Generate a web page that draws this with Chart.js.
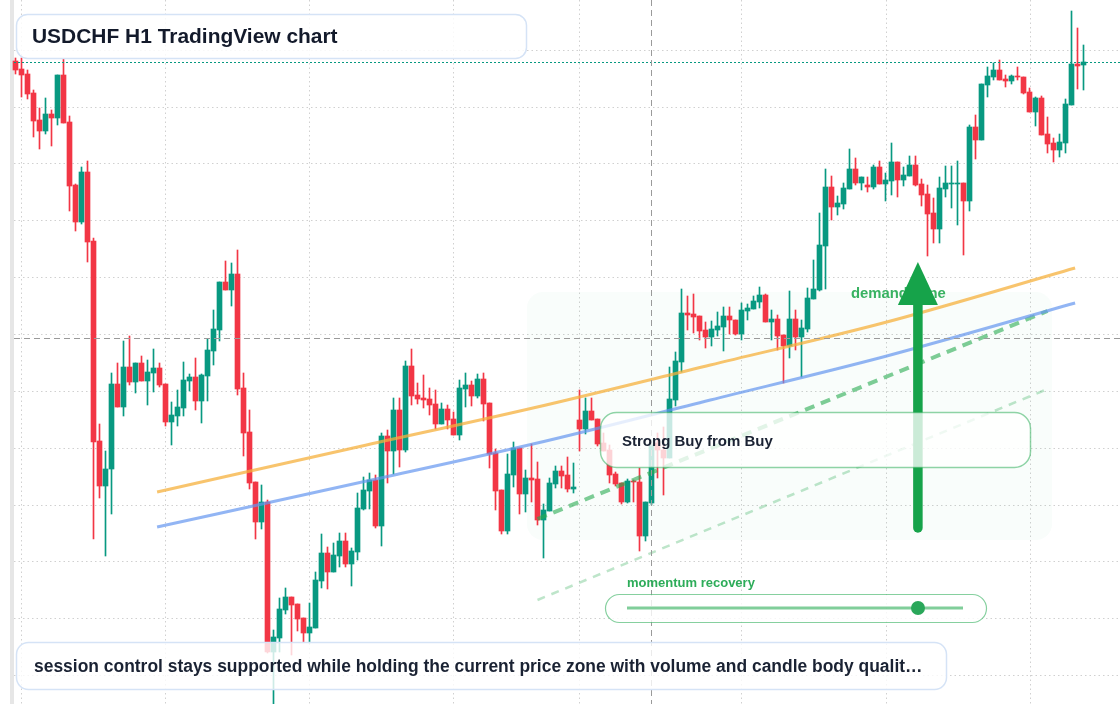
<!DOCTYPE html>
<html><head><meta charset="utf-8">
<script src="https://cdn.jsdelivr.net/npm/chart.js@4.4.1/dist/chart.umd.min.js"></script>
<style>html,body{margin:0;padding:0;background:#fff;overflow:hidden}canvas{display:block}</style>
</head><body>
<canvas id="c" width="1120" height="704"></canvas>
<script>
// ---- data (USDCHF, H1) ----
const opens=[.89878,.89862,.89852,.89814,.89760,.89738,.89772,.89764,.89850,.89756,
.89630,.89556,.89656,.89518,.89118,.89028,.89062,.89232,.89186,.89266,
.89236,.89274,.89238,.89254,.89264,.89232,.89156,.89168,.89184,.89238,
.89246,.89198,.89248,.89298,.89340,.89436,.89420,.89452,.89224,.89136,
.89036,.88956,.88996,.88696,.88724,.88780,.88806,.88792,.88764,.88734,
.88744,.88838,.88894,.88856,.88888,.88918,.88872,.88896,.88982,.89018,
.89040,.88948,.89128,.89098,.89180,.89100,.89268,.89210,.89204,.89202,
.89192,.89152,.89182,.89162,.89130,.89222,.89230,.89208,.89242,.89194,
.89094,.89020,.88938,.89050,.89104,.89012,.89044,.89042,.88960,.88978,
.89032,.89058,.89050,.89022,.89160,.89142,.89178,.89162,.89114,.89100,
.89052,.89034,.88996,.89038,.89036,.88928,.88994,.89114,.89100,.89084,
.89200,.89276,.89374,.89372,.89368,.89340,.89326,.89340,.89346,.89368,
.89360,.89332,.89378,.89382,.89396,.89410,.89356,.89362,.89330,.89308,
.89362,.89326,.89342,.89402,.89420,.89508,.89626,.89586,.89592,.89622,
.89662,.89634,.89630,.89626,.89666,.89632,.89638,.89676,.89640,.89648,
.89670,.89632,.89612,.89574,.89542,.89622,.89632,.89632,.89634,.89598,
.89746,.89720,.89830,.89846,.89860,.89842,.89838,.89848,.89846,.89816,
.89776,.89804,.89732,.89714,.89700,.89714,.89790,.89872,.89870];
const highs=[.89884,.89884,.89860,.89820,.89784,.89804,.89780,.89850,.89882,.89768,
.89632,.89666,.89678,.89524,.89152,.89098,.89254,.89274,.89318,.89328,
.89274,.89288,.89280,.89302,.89274,.89232,.89196,.89220,.89276,.89252,
.89284,.89252,.89322,.89380,.89436,.89478,.89474,.89500,.89254,.89180,
.89036,.89030,.89000,.88740,.88804,.88824,.88806,.88792,.88764,.88794,
.88856,.88932,.88906,.88914,.88934,.88934,.88904,.89014,.89046,.89054,
.89050,.89134,.89140,.89204,.89204,.89278,.89302,.89234,.89250,.89224,
.89220,.89194,.89190,.89176,.89240,.89254,.89238,.89252,.89254,.89194,
.89102,.89020,.89092,.89116,.89104,.89060,.89112,.89076,.88992,.89044,
.89068,.89068,.89086,.89074,.89220,.89204,.89204,.89162,.89134,.89110,
.89056,.89034,.89042,.89040,.89064,.88996,.89120,.89134,.89146,.89266,
.89296,.89422,.89408,.89412,.89368,.89356,.89358,.89376,.89386,.89386,
.89360,.89394,.89392,.89408,.89426,.89412,.89380,.89370,.89330,.89418,
.89380,.89360,.89424,.89480,.89574,.89662,.89648,.89608,.89634,.89702,
.89684,.89646,.89646,.89670,.89678,.89654,.89714,.89676,.89666,.89688,
.89688,.89642,.89630,.89604,.89646,.89668,.89668,.89678,.89634,.89750,
.89770,.89832,.89866,.89874,.89880,.89850,.89850,.89866,.89846,.89824,
.89806,.89808,.89766,.89724,.89732,.89802,.89978,.89944,.89910];
const lows=[.89852,.89806,.89802,.89726,.89702,.89732,.89708,.89750,.89754,.89578,
.89538,.89552,.89476,.88922,.89004,.88888,.88972,.89186,.89168,.89230,
.89214,.89238,.89190,.89216,.89226,.89148,.89110,.89148,.89168,.89218,
.89180,.89154,.89198,.89270,.89318,.89420,.89388,.89210,.89088,.89022,
.88922,.88942,.88694,.88590,.88696,.88772,.88690,.88738,.88716,.88714,
.88744,.88824,.88822,.88856,.88866,.88866,.88828,.88880,.88980,.88982,
.88944,.88908,.89034,.89052,.89066,.89096,.89190,.89192,.89184,.89170,
.89142,.89152,.89142,.89130,.89120,.89186,.89188,.89204,.89158,.89064,
.88980,.88932,.88932,.89026,.88972,.88976,.88996,.88950,.88884,.88978,
.89024,.89024,.89016,.89014,.89098,.89132,.89160,.89108,.89098,.89034,
.89028,.88992,.88994,.88996,.88898,.88918,.88990,.89044,.89010,.89084,
.89188,.89256,.89340,.89334,.89320,.89304,.89308,.89328,.89298,.89332,
.89330,.89320,.89360,.89382,.89384,.89356,.89320,.89300,.89234,.89284,
.89300,.89246,.89336,.89402,.89418,.89422,.89560,.89570,.89582,.89622,
.89630,.89620,.89616,.89622,.89632,.89598,.89610,.89606,.89628,.89648,
.89628,.89588,.89488,.89514,.89514,.89606,.89584,.89550,.89490,.89578,
.89682,.89720,.89806,.89840,.89840,.89826,.89832,.89840,.89812,.89776,
.89748,.89730,.89694,.89676,.89686,.89694,.89790,.89822,.89820];
const closes=[.89860,.89850,.89812,.89758,.89738,.89772,.89764,.89850,.89754,.89628,
.89556,.89656,.89516,.89116,.89028,.89062,.89232,.89186,.89266,.89236,
.89274,.89238,.89256,.89264,.89230,.89156,.89170,.89186,.89240,.89246,
.89198,.89250,.89300,.89342,.89436,.89420,.89452,.89222,.89134,.89034,
.88956,.88996,.88696,.88726,.88782,.88806,.88790,.88762,.88734,.88746,
.88840,.88894,.88856,.88890,.88918,.88872,.88898,.88984,.89020,.89040,
.88948,.89128,.89098,.89180,.89100,.89268,.89208,.89202,.89200,.89190,
.89152,.89182,.89160,.89130,.89224,.89230,.89208,.89242,.89192,.89092,
.89018,.88938,.89052,.89104,.89012,.89044,.89040,.88960,.88980,.89034,
.89058,.89048,.89022,.89026,.89142,.89178,.89160,.89112,.89098,.89050,
.89032,.88996,.89038,.89036,.88928,.88996,.89110,.89100,.89084,.89202,
.89278,.89374,.89370,.89366,.89338,.89326,.89342,.89348,.89368,.89360,
.89332,.89380,.89384,.89398,.89410,.89356,.89362,.89328,.89308,.89362,
.89326,.89344,.89404,.89422,.89510,.89626,.89586,.89594,.89624,.89662,
.89634,.89646,.89626,.89666,.89632,.89640,.89676,.89640,.89650,.89670,
.89630,.89610,.89572,.89542,.89624,.89634,.89634,.89634,.89598,.89746,
.89720,.89832,.89848,.89860,.89840,.89838,.89848,.89846,.89814,.89776,
.89804,.89730,.89712,.89700,.89716,.89792,.89872,.89868,.89876];

// trend curves (x = bar index)
const bandX=[23.6,57.4,86.6,115.8,144.9,176.6];
const upperBand=[.89016,.89107,.89185,.89270,.89355,.89464];
const lowerBand=[.88946,.89035,.89113,.89200,.89287,.89394];
// rising channel (two points each)
const channelX=[87.0,172.0];
const channelMid=[.88962,.89378];
const channelLow=[.88800,.89222];
// demand zone and signal
const zoneX=[85.25,172.75];
const zonePrice=[.88920,.89416];
const signalBar=150.4;
const signalFrom=.88944, signalTo=.89476;
// cursor
const cursorBar=105.92, cursorPrice=.89324;
// grid ticks
const gridBars=[1,25,49,73,94,121,145,169];
const gridPrices=[.899004,.897867,.89673,.895593,.894456,.893319,.892182,.891045,.889908,.888771,.887634,.886497];

const titleText='USDCHF H1 TradingView chart';
const footerText='session control stays supported while holding the current price zone with volume and candle body qualit\u2026';
const signalText='Strong Buy from Buy';
const momentumText='momentum recovery';
const zoneText='demand zone';

// ---- chart ----
const UP='#089981', DOWN='#f23645';
const idx=opens.map((_,i)=>i);
const candleColor=idx.map(i=>closes[i]>=opens[i]?UP:DOWN);
const FAMILY="'Liberation Sans', Arial, Helvetica, sans-serif";

function rr(ctx,x,y,w,h,r){ctx.beginPath();ctx.moveTo(x+r,y);ctx.arcTo(x+w,y,x+w,y+h,r);ctx.arcTo(x+w,y+h,x,y+h,r);ctx.arcTo(x,y+h,x,y,r);ctx.arcTo(x,y,x+w,y,r);ctx.closePath();}
function fitFont(ctx,text,width,weight){let size=8;for(let s=8;s<=40;s+=0.05){ctx.font=weight+' '+s.toFixed(2)+'px '+FAMILY;if(ctx.measureText(text).width>width)break;size=s;}return weight+' '+size.toFixed(2)+'px '+FAMILY;}

const overlay={
  id:'overlay',
  beforeDatasetsDraw(chart){
    const {ctx,scales:{x,y}}=chart;
    ctx.save();
    ctx.strokeStyle='#d0d0d0';ctx.lineWidth=1;ctx.setLineDash([1.5,3]);
    gridBars.forEach(b=>{const px=Math.round(x.getPixelForValue(b))+0.5;ctx.beginPath();ctx.moveTo(px,0);ctx.lineTo(px,704);ctx.stroke();});
    gridPrices.forEach(p=>{const py=Math.round(y.getPixelForValue(p))+0.5;ctx.beginPath();ctx.moveTo(14,py);ctx.lineTo(1120,py);ctx.stroke();});
    ctx.setLineDash([]);
    ctx.fillStyle='#e6e6e6';ctx.fillRect(10,0,4,704);
    // demand zone
    const zx0=x.getPixelForValue(zoneX[0]),zx1=x.getPixelForValue(zoneX[1]);
    const zy0=y.getPixelForValue(zonePrice[1]),zy1=y.getPixelForValue(zonePrice[0]);
    rr(ctx,zx0,zy0,zx1-zx0,zy1-zy0,16);ctx.fillStyle='rgba(34,197,94,0.028)';ctx.fill();
    ctx.restore();
  },
  afterDatasetsDraw(chart){
    const {ctx,scales:{x,y}}=chart;
    ctx.save();
    // last price line
    const lp=Math.round(y.getPixelForValue(closes[closes.length-1]))+0.5;
    ctx.strokeStyle=UP;ctx.lineWidth=1;ctx.setLineDash([2,2]);
    ctx.beginPath();ctx.moveTo(14,lp);ctx.lineTo(1120,lp);ctx.stroke();
    // cursor crosshair
    ctx.strokeStyle='#9a9a9a';ctx.setLineDash([6,4]);
    const cy=Math.round(y.getPixelForValue(cursorPrice))+0.5, cx=Math.round(x.getPixelForValue(cursorBar))+0.5;
    ctx.beginPath();ctx.moveTo(14,cy);ctx.lineTo(1120,cy);ctx.stroke();
    ctx.beginPath();ctx.moveTo(cx,0);ctx.lineTo(cx,704);ctx.stroke();
    ctx.setLineDash([]);
    // zone label
    ctx.textBaseline='middle';ctx.textAlign='left';
    ctx.font=fitFont(ctx,zoneText,95,'bold');ctx.fillStyle='rgba(34,170,80,0.9)';
    ctx.fillText(zoneText,x.getPixelForValue(zoneX[0])+324,y.getPixelForValue(zonePrice[1])+1.5);
    // signal arrow
    const ax=x.getPixelForValue(signalBar), ay0=y.getPixelForValue(signalFrom), ay1=y.getPixelForValue(signalTo);
    ctx.strokeStyle='#16a34a';ctx.fillStyle='#16a34a';ctx.lineWidth=9.5;ctx.lineCap='round';
    ctx.beginPath();ctx.moveTo(ax,ay0);ctx.lineTo(ax,ay1+40);ctx.stroke();
    ctx.beginPath();ctx.moveTo(ax,ay1);ctx.lineTo(ax+20,ay1+43);ctx.lineTo(ax-20,ay1+43);ctx.closePath();ctx.fill();
    ctx.lineCap='butt';
    // title box
    rr(ctx,16.5,14.5,510,44,11);ctx.fillStyle='rgba(255,255,255,0.85)';ctx.fill();ctx.strokeStyle='#d5e3f6';ctx.lineWidth=1.5;ctx.stroke();
    ctx.fillStyle='#131a2b';ctx.font=fitFont(ctx,titleText,306,'bold');ctx.fillText(titleText,32,37);
    // footer box
    rr(ctx,16.5,642.5,930,47,12);ctx.fillStyle='rgba(255,255,255,0.8)';ctx.fill();ctx.strokeStyle='#d5e3f6';ctx.lineWidth=1.5;ctx.stroke();
    ctx.fillStyle='#1a2233';ctx.font=fitFont(ctx,footerText,889,'bold');ctx.fillText(footerText,34,667);
    // signal box
    rr(ctx,600.5,412.5,430,55,16);ctx.fillStyle='rgba(255,255,255,0.78)';ctx.fill();ctx.strokeStyle='rgba(34,170,80,0.5)';ctx.lineWidth=1.5;ctx.stroke();
    ctx.fillStyle='#1a2233';ctx.font=fitFont(ctx,signalText,151,'bold');ctx.fillText(signalText,622,442);
    // momentum gauge
    ctx.fillStyle='rgba(34,168,80,0.95)';ctx.font=fitFont(ctx,momentumText,128,'bold');ctx.fillText(momentumText,627,583);
    rr(ctx,605.5,594.5,381,28,14);ctx.fillStyle='rgba(255,255,255,0.8)';ctx.fill();ctx.strokeStyle='rgba(34,170,80,0.55)';ctx.lineWidth=1.2;ctx.stroke();
    ctx.strokeStyle='rgba(60,180,100,0.65)';ctx.lineWidth=3;ctx.beginPath();ctx.moveTo(627,608);ctx.lineTo(963,608);ctx.stroke();
    ctx.fillStyle='#2aa75a';ctx.beginPath();ctx.arc(918,608,7,0,Math.PI*2);ctx.fill();
    ctx.restore();
  }
};

new Chart(document.getElementById('c'),{
  type:'bar',
  data:{datasets:[
    {type:'line',label:'upper',data:bandX.map((b,i)=>({x:b,y:upperBand[i]})),borderColor:'rgba(245,176,60,0.75)',borderWidth:3,pointRadius:0,cubicInterpolationMode:'monotone',fill:false,order:1},
    {type:'line',label:'lower',data:bandX.map((b,i)=>({x:b,y:lowerBand[i]})),borderColor:'rgba(100,150,240,0.7)',borderWidth:3,pointRadius:0,cubicInterpolationMode:'monotone',fill:false,order:1},
    {type:'line',label:'channel mid',data:channelX.map((b,i)=>({x:b,y:channelMid[i]})),borderColor:'rgba(40,170,80,0.6)',borderWidth:4,borderDash:[10,7],pointRadius:0,fill:false,order:1},
    {type:'line',label:'channel low',data:channelX.map((b,i)=>({x:b,y:channelLow[i]})),borderColor:'rgba(40,170,80,0.3)',borderWidth:2.5,borderDash:[8,7],pointRadius:0,fill:false,order:1},
    {label:'bodies',data:idx.map(i=>({x:i,y:[opens[i],closes[i]]})),backgroundColor:candleColor,barThickness:5,grouped:false,borderWidth:0,order:2},
    {label:'wicks',data:idx.map(i=>({x:i,y:[lows[i],highs[i]]})),backgroundColor:candleColor,barThickness:1,grouped:false,borderWidth:0,order:3}
  ]},
  options:{
    responsive:false,animation:false,events:[],devicePixelRatio:1,
    layout:{padding:0},
    plugins:{legend:{display:false},tooltip:{enabled:false},title:{display:false}},
    scales:{
      x:{type:'linear',min:-15.5/6,max:(1120-15.5)/6,offset:false,display:false},
      y:{type:'linear',min:.88592,max:.9,display:false}
    }
  },
  plugins:[overlay]
});
</script>
</body></html>
